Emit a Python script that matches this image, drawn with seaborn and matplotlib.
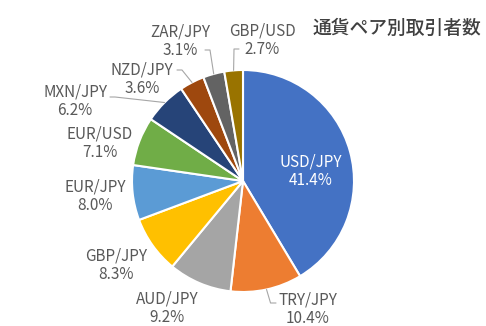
import numpy as np
import matplotlib
matplotlib.use("Agg")
import matplotlib.pyplot as plt
import seaborn as sns

# Share of traders by currency pair (%)
pairs = ["USD/JPY", "TRY/JPY", "AUD/JPY", "GBP/JPY", "EUR/JPY",
         "EUR/USD", "MXN/JPY", "NZD/JPY", "ZAR/JPY", "GBP/USD"]
shares = [41.4, 10.4, 9.2, 8.3, 8.0, 7.1, 6.2, 3.6, 3.1, 2.7]
title = "通貨ペア別取引者数"

colors = sns.color_palette(["#4472C4", "#ED7D31", "#A5A5A5", "#FFC000", "#5B9BD5",
                            "#70AD47", "#264478", "#9E480E", "#636363", "#997300"])

sns.set_theme(style="white")
plt.rcParams["font.family"] = ["Noto Sans CJK JP", "DejaVu Sans"]

W, H = 486, 326
fig = plt.figure(figsize=(W / 100, H / 100), dpi=100)
ax = fig.add_axes([0, 0, 1, 1])

cx, cy, R = 243, H - 181, 111
wedges, _ = ax.pie(shares, colors=colors, startangle=90, counterclock=False,
                   center=(cx, cy), radius=R, frame=True,
                   wedgeprops=dict(edgecolor="white", linewidth=1.5))
ax.set_xlim(0, W)
ax.set_ylim(0, H)
ax.axis("off")

# label placement (pixel coords from top-left) and leader-line anchor
label_pos = {
    "USD/JPY": (311, 171, None),
    "TRY/JPY": (308, 309, (276, 303)),
    "AUD/JPY": (167, 308, None),
    "GBP/JPY": (116, 265, None),
    "EUR/JPY": (95, 196, None),
    "EUR/USD": (100, 143, None),
    "MXN/JPY": (75, 101, (110, 97)),
    "NZD/JPY": (142, 79, (177, 70)),
    "ZAR/JPY": (180, 41, (205, 50)),
    "GBP/USD": (262, 40, (234, 49)),
}

label_color = "#595959"
for w, name, val in zip(wedges, pairs, shares):
    tx, ty, lead = label_pos[name]
    txt = f"{name}\n{val:.1f}%"
    col = "white" if name == "USD/JPY" else label_color
    ax.text(tx, H - ty, txt, ha="center", va="center", fontsize=11,
            color=col, linespacing=1.1)
    if lead is not None:
        ang = np.deg2rad((w.theta1 + w.theta2) / 2)
        ex, ey = cx + R * np.cos(ang), cy + R * np.sin(ang)
        lx, ly = lead
        ly = H - ly
        if name == "TRY/JPY":
            xs = [ex, ex + 4, lx]
            ys = [ey, ly, ly]
        elif name == "GBP/USD":
            xs = [ex, lx, lx + 5]
            ys = [ey, ly, ly]
        else:
            xs = [lx, lx + 5, ex]
            ys = [ly, ly, ey]
        ax.plot(xs, ys, color="#A6A6A6", linewidth=0.8)

ax.text(397, H - 28, title, ha="center", va="center", fontsize=13.5,
        color="#404040", fontweight="medium")

fig.savefig("out.png", dpi=100)
